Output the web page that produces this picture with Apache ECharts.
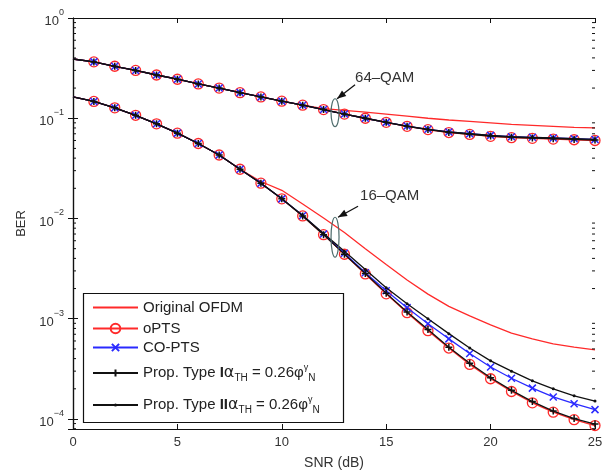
<!DOCTYPE html>
<html><head><meta charset="utf-8">
<script src="https://cdn.jsdelivr.net/npm/echarts@6/dist/echarts.min.js"></script>
<style>html,body{margin:0;padding:0;background:#fff}#c{width:611px;height:475px}</style>
</head><body><div id="c"></div>
<script>
const snr = [0,1,2,3,4,5,6,7,8,9,10,11,12,13,14,15,16,17,18,19,20,21,22,23,24,25];
const xTicks = [0,5,10,15,20,25];
const yDecades = [1e-4,1e-3,1e-2,1e-1,1];

// 64-QAM
const q64Original = [0.39,0.365,0.33,0.30,0.27,0.245,0.22,0.20,0.18,0.163,0.148,0.135,0.125,0.12,0.115,0.11,0.105,0.10,0.096,0.093,0.09,0.087,0.085,0.083,0.081,0.080];
const q64OPTS     = [0.39,0.365,0.33,0.30,0.27,0.245,0.22,0.20,0.18,0.163,0.148,0.135,0.122,0.11,0.10,0.091,0.083,0.077,0.072,0.069,0.066,0.064,0.063,0.062,0.061,0.060];
const q64COPTS    = [0.39,0.365,0.33,0.30,0.27,0.245,0.22,0.20,0.18,0.163,0.148,0.135,0.122,0.11,0.10,0.091,0.0835,0.0775,0.073,0.070,0.0675,0.0655,0.0645,0.0635,0.0625,0.0615];
const q64TypeI    = [0.39,0.365,0.33,0.30,0.27,0.245,0.22,0.20,0.18,0.163,0.148,0.135,0.122,0.11,0.10,0.091,0.083,0.077,0.0722,0.0692,0.0665,0.0645,0.0635,0.0625,0.0615,0.0605];
const q64TypeII   = [0.39,0.365,0.33,0.30,0.27,0.245,0.22,0.20,0.18,0.163,0.148,0.135,0.122,0.11,0.10,0.091,0.0835,0.0775,0.073,0.070,0.0675,0.0655,0.0645,0.0635,0.0625,0.0615];

// 16-QAM
const q16Original = [0.163,0.147,0.127,0.107,0.088,0.071,0.056,0.043,0.031,0.0234,0.0191,0.01396,0.0101,0.00724,0.0050,0.00347,0.00243,0.00176,0.00133,0.00107,0.00087,0.00072,0.00063,0.00056,0.00052,0.00049];
const q16OPTS     = [0.163,0.147,0.127,0.107,0.088,0.071,0.056,0.043,0.031,0.0225,0.0157,0.0106,0.0069,0.0044,0.0028,0.00177,0.00115,0.00076,0.00051,0.00035,0.000252,0.000188,0.000145,0.000117,0.0000985,0.000086];
const q16COPTS    = [0.163,0.147,0.127,0.107,0.088,0.071,0.056,0.043,0.031,0.0225,0.0157,0.0107,0.0070,0.0045,0.00288,0.0019,0.00129,0.00089,0.00063,0.00045,0.00033,0.000255,0.000203,0.000166,0.000142,0.000124];
const q16TypeI    = [0.163,0.147,0.127,0.107,0.088,0.071,0.056,0.043,0.031,0.0225,0.0157,0.0106,0.0069,0.0044,0.00283,0.0018,0.00117,0.00078,0.00052,0.00036,0.000258,0.000193,0.000149,0.00012,0.000101,0.000089];
const q16TypeII   = [0.163,0.147,0.127,0.107,0.088,0.071,0.056,0.043,0.031,0.0225,0.0157,0.0107,0.0071,0.0047,0.0031,0.00204,0.00141,0.0010,0.00071,0.00051,0.00038,0.0003,0.00024,0.0002,0.00017,0.000151];

const names = ['Original OFDM','oPTS','CO-PTS','Prop. Type I','Prop. Type II'];

const FONT = 'Liberation Sans, Arial, sans-serif';
const RED = '#ff2a2a', BLUE = '#2a2aff', BLACK = '#111';
const SYM_X = 'path://M0,0L10,10M10,0L0,10';
const SYM_PLUS = 'path://M5,0L5,10M0,5L10,5';

function pts(arr, skipFirst){
  return snr.map((x,i)=> (i===0 && skipFirst) ? {value:[x,arr[i]], symbol:'none'} : [x,arr[i]]);
}
function makeSeries(vals){
  return [
    {name:names[0], type:'line', data:pts(vals[0],false), symbol:'none', lineStyle:{color:RED,width:1.3}, itemStyle:{color:RED}, z:2},
    {name:names[1], type:'line', data:pts(vals[1],true), symbol:'circle', symbolSize:10, showAllSymbol:true,
      lineStyle:{color:RED,width:1.3}, itemStyle:{color:'rgba(0,0,0,0)', borderColor:RED, borderWidth:1.3}, z:3},
    {name:names[2], type:'line', data:pts(vals[2],true), symbol:SYM_X, symbolSize:7, showAllSymbol:true,
      lineStyle:{color:BLUE,width:1.3}, itemStyle:{color:BLUE, borderColor:BLUE, borderWidth:1.5}, z:4},
    {name:names[3], type:'line', data:pts(vals[3],true), symbol:SYM_PLUS, symbolSize:7, showAllSymbol:true,
      lineStyle:{color:BLACK,width:1.3}, itemStyle:{color:BLACK, borderColor:BLACK, borderWidth:1.5}, z:6},
    {name:names[4], type:'line', data:pts(vals[4],true), symbol:'circle', symbolSize:3, showAllSymbol:true,
      lineStyle:{color:BLACK,width:1.3}, itemStyle:{color:BLACK}, z:5}
  ];
}
const series = makeSeries([q64Original,q64OPTS,q64COPTS,q64TypeI,q64TypeII])
  .concat(makeSeries([q16Original,q16OPTS,q16COPTS,q16TypeI,q16TypeII]));
series.forEach(s=>{s.animation=false; s.emphasis={disabled:true}; s.clip=true;});

const legendCenters = [310,331,350,373,405];
const legendItemH = [1,12,9,9,4];
const LH = 20;
const legendRich = {
  m:{fontSize:15, color:'#222', fontFamily:FONT, lineHeight:LH},
  b:{fontSize:15, color:'#222', fontFamily:FONT, fontWeight:'bold', lineHeight:LH},
  a:{fontSize:16, color:'#222', fontFamily:'DejaVu Sans, sans-serif', lineHeight:LH},
  sub:{fontSize:10, color:'#222', fontFamily:FONT, verticalAlign:'bottom', lineHeight:LH},
  sup:{fontSize:9, color:'#222', fontFamily:FONT, verticalAlign:'top', lineHeight:LH}
};
function legendFmt(n){
  if(n==='Prop. Type I') return '{m|Prop. Type }{b|I}{a|α}{sub|TH}{m| = 0.26φ}{sup|γ}{sub|N}';
  if(n==='Prop. Type II') return '{m|Prop. Type }{b|II}{a|α}{sub|TH}{m| = 0.26φ}{sup|γ}{sub|N}';
  return '{m|'+n+'}';
}
const legends = names.map((n,i)=>({
  data:[n], left:92, top:legendCenters[i]-LH/2, padding:0, itemWidth:45, itemHeight:legendItemH[i], itemGap:6,
  selectedMode:false, formatter:legendFmt, textStyle:{rich:legendRich, fontSize:15, color:'#222', fontFamily:FONT},
  z:10
}));

const yMin = Math.pow(10,-4.1);
const yLabelFmt = v => { const e = Math.round(Math.log10(v)); return '{b|10}{s|'+(e<0?'−'+(-e):e)+'}'; };

const option = {
  animation:false,
  backgroundColor:'#fff',
  grid:{left:73, right:16, top:18, bottom:45},
  legend:legends,
  xAxis:[
    {type:'value', min:0, max:25, interval:5, position:'bottom',
     name:'SNR (dB)', nameLocation:'middle', nameGap:27, nameTextStyle:{fontSize:14, color:'#333', fontFamily:FONT},
     axisLine:{lineStyle:{color:'#111',width:1.2}}, axisTick:{inside:true, length:5, lineStyle:{color:'#111'}},
     axisLabel:{fontSize:13, color:'#333', fontFamily:FONT, margin:7,
       formatter: v => xTicks.indexOf(v)>=0 ? String(v) : ''},
     splitLine:{show:false}},
    {type:'value', min:0, max:25, interval:5, position:'top',
     axisLine:{lineStyle:{color:'#111',width:1.2}}, axisTick:{inside:true, length:5, lineStyle:{color:'#111'}},
     axisLabel:{show:false}, splitLine:{show:false}}
  ],
  yAxis:[
    {type:'log', logBase:10, min:yMin, max:1, position:'left',
     name:'BER', nameLocation:'middle', nameGap:33, nameTextStyle:{fontSize:13, color:'#333', fontFamily:FONT},
     axisLine:{lineStyle:{color:'#111',width:1.2}}, axisTick:{inside:true, length:5, lineStyle:{color:'#111'}},
     axisLabel:{showMinLabel:false, margin:9, formatter:yLabelFmt,
       rich:{b:{fontSize:13,color:'#333',fontFamily:FONT,lineHeight:20,verticalAlign:'bottom'},
             s:{fontSize:9,color:'#333',fontFamily:FONT,lineHeight:20,verticalAlign:'top'}}},
     splitLine:{show:false}},
    {type:'log', logBase:10, min:yMin, max:1, position:'right',
     axisLine:{lineStyle:{color:'#111',width:1.2}}, axisTick:{inside:true, length:5, lineStyle:{color:'#111'}},
     axisLabel:{show:false}, splitLine:{show:false}}
  ],
  series:series
};

const chart = echarts.init(document.getElementById('c'), null, {renderer:'canvas'});
chart.setOption(option);

// minor log ticks, legend frame, annotations
const g = [];
const xl = chart.convertToPixel({xAxisIndex:0}, 0);
const xr = chart.convertToPixel({xAxisIndex:0}, 25);
function minorTick(v){
  const py = chart.convertToPixel({yAxisIndex:0}, v);
  g.push({type:'line', shape:{x1:xl,y1:py,x2:xl+3,y2:py}, style:{stroke:'#111',lineWidth:1}, z:5});
  g.push({type:'line', shape:{x1:xr,y1:py,x2:xr-3,y2:py}, style:{stroke:'#111',lineWidth:1}, z:5});
}
for (let d=0; d<yDecades.length-1; d++){
  for (let k=2;k<=9;k++) minorTick(yDecades[d]*k);
}
for (let k=8;k<=9;k++){ const v = 1e-5*k; if (v>=yMin) minorTick(v); }
// legend frame
g.push({type:'rect', shape:{x:83.5,y:293.5,width:260,height:129}, style:{fill:'#fff',stroke:'#111',lineWidth:1.2}, z:8});

function annot(xv, yv, ry, label, txtDx, txtDy, tipDx, tipDy, tailDx, tailDy){
  const p = chart.convertToPixel({xAxisIndex:0, yAxisIndex:0}, [xv, yv]);
  const cx = p[0], cy = p[1];
  g.push({type:'ellipse', shape:{cx:cx, cy:cy, rx:4, ry:ry}, style:{fill:'none', stroke:'#4d6b6b', lineWidth:1.2}, z:9});
  const tx = cx+tipDx, ty = cy+tipDy, sx = cx+tailDx, sy = cy+tailDy;
  g.push({type:'line', shape:{x1:sx,y1:sy,x2:tx,y2:ty}, style:{stroke:'#111',lineWidth:1.3}, z:9});
  const ang = Math.atan2(ty-sy, tx-sx), L=9, W=3.5;
  const bx = tx - L*Math.cos(ang), by = ty - L*Math.sin(ang);
  g.push({type:'polygon', shape:{points:[[tx,ty],[bx - W*Math.sin(ang), by + W*Math.cos(ang)],[bx + W*Math.sin(ang), by - W*Math.cos(ang)]]}, style:{fill:'#111'}, z:9});
  g.push({type:'text', x:cx+txtDx, y:cy+txtDy, style:{text:label, fill:'#333', font:'15px '+FONT, textVerticalAlign:'middle'}, z:9});
}
annot(12.55, 0.1135, 14, '64–QAM', 20, -35, 2, -14, 20, -28);
annot(12.55, 0.0065, 20, '16–QAM', 25, -41, 3, -20, 23, -31);

chart.setOption({graphic:{elements:g}});
</script></body></html>
